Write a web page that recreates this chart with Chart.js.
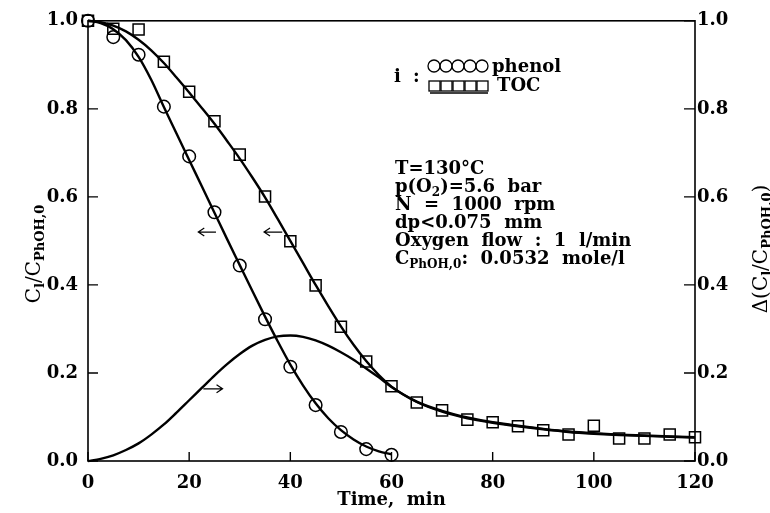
<!DOCTYPE html>
<html>
<head>
<meta charset="utf-8">
<script src="https://cdn.jsdelivr.net/npm/chart.js@4.4.0/dist/chart.umd.min.js"></script>
<style>
    html, body { margin: 0; padding: 0; background: #fff; }
</style>
</head>
<body>
<canvas id="myChart" width="770" height="513"></canvas>
<script>
// measured points, relative concentration
const phenol_t = [0, 5, 10, 15, 20, 25, 30, 35, 40, 45, 50, 55, 60]
const phenol_meas = [1.0, 0.963, 0.923, 0.805, 0.692, 0.565, 0.444, 0.322, 0.214, 0.127, 0.066, 0.027, 0.014]
const toc_t = [0, 5, 10, 15, 20, 25, 30, 35, 40, 45, 50, 55, 60, 65, 70, 75, 80, 85, 90, 95, 100, 105, 110, 115, 120]
const toc_meas = [1.0, 0.982, 0.98, 0.907, 0.839, 0.772, 0.696, 0.601, 0.499, 0.399, 0.305, 0.226, 0.17, 0.133, 0.115, 0.094, 0.088, 0.079, 0.07, 0.06, 0.08, 0.051, 0.051, 0.06, 0.054]

// model curves
const fit_t = [0, 2.5, 5, 7.5, 10, 12.5, 15, 17.5, 20, 22.5, 25, 27.5, 30, 32.5, 35, 37.5, 40, 42.5, 45, 47.5, 50, 52.5, 55, 57.5, 60,
    65, 70, 75, 80, 85, 90, 95, 100, 105, 110, 115, 120]
const phenol_fit = [1.0, 0.995, 0.981, 0.956, 0.918, 0.866, 0.804, 0.744, 0.684, 0.624, 0.564, 0.504, 0.445, 0.386, 0.328, 0.272, 0.219, 0.172, 0.131, 0.097, 0.07, 0.049, 0.033, 0.022, 0.015]
const toc_fit = [1.0, 0.997, 0.989, 0.976, 0.957, 0.933, 0.904, 0.871, 0.837, 0.802, 0.766, 0.727, 0.687, 0.644, 0.599, 0.55, 0.5, 0.45, 0.4, 0.352, 0.306, 0.264, 0.227, 0.195, 0.169,
    0.135, 0.114, 0.099, 0.088, 0.08, 0.073, 0.067, 0.063, 0.06, 0.058, 0.056, 0.054]
const delta_fit = [0, 0.005, 0.013, 0.025, 0.04, 0.06, 0.083, 0.11, 0.138, 0.166, 0.194, 0.22, 0.243, 0.262, 0.275, 0.283, 0.285, 0.282, 0.274, 0.262, 0.247, 0.23, 0.21, 0.19, 0.168,
    0.134, 0.112, 0.097, 0.087, 0.079, 0.072, 0.066, 0.062, 0.059, 0.057, 0.055, 0.053]

const x_ticks = [0, 20, 40, 60, 80, 100, 120]
const y_ticks = [0.0, 0.2, 0.4, 0.6, 0.8, 1.0]

const conditions = [
    [['T=130°C']],
    [['p(O'], ['2', 'sub'], [')=5.6  bar']],
    [['N  =  1000  rpm']],
    [['dp<0.075  mm']],
    [['Oxygen  flow  :  1  l/min']],
    [['C'], ['PhOH,0', 'sub'], [':  0.0532  mole/l']],
]

const FONT = '"DejaVu Serif", "Liberation Serif", serif'

const pairs = (xs, ys) => ys.map((y, i) => ({ x: xs[i], y: y }))

// text with subscripts, parts = [[text, kind], ...]
const drawRich = (ctx, parts, x, y, size, weight) => {
    ctx.textBaseline = 'alphabetic'
    ctx.textAlign = 'left'
    parts.forEach((p) => {
        if (p[1] == 'sub') {
            ctx.font = `bold ${Math.round(size * 0.64)}px ${FONT}`
            ctx.fillText(p[0], x, y + size * 0.22)
        } else {
            ctx.font = `${weight} ${size}px ${FONT}`
            ctx.fillText(p[0], x, y)
        }
        x += ctx.measureText(p[0]).width
    })
    return x
}

const richWidth = (ctx, parts, size, weight) => {
    let w = 0
    parts.forEach((p) => {
        ctx.font = p[1] == 'sub' ? `bold ${Math.round(size * 0.64)}px ${FONT}` : `${weight} ${size}px ${FONT}`
        w += ctx.measureText(p[0]).width
    })
    return w
}

const drawArrow = (ctx, x1, x2, y) => {
    const dir = x2 > x1 ? 1 : -1
    ctx.beginPath()
    ctx.moveTo(x1, y)
    ctx.lineTo(x2, y)
    ctx.moveTo(x2 - dir * 6, y - 4)
    ctx.lineTo(x2, y)
    ctx.lineTo(x2 - dir * 6, y + 4)
    ctx.stroke()
}

const framePlugin = {
    id: 'frame',
    afterDraw(chart) {
        const ctx = chart.ctx
        const a = chart.chartArea
        const sx = chart.scales.x
        const yl = chart.scales.y
        const yr = chart.scales.y2
        ctx.save()
        ctx.strokeStyle = '#000'
        ctx.fillStyle = '#000'
        ctx.lineWidth = 1.6
        ctx.strokeRect(a.left, a.top, a.right - a.left, a.bottom - a.top)

        // inward ticks
        ctx.lineWidth = 1.4
        ctx.beginPath()
        x_ticks.forEach((v) => {
            const px = sx.getPixelForValue(v)
            ctx.moveTo(px, a.bottom)
            ctx.lineTo(px, a.bottom - 9)
        })
        y_ticks.forEach((v) => {
            const py = yl.getPixelForValue(v)
            ctx.moveTo(a.left, py)
            ctx.lineTo(a.left + 10, py)
            const pr = yr.getPixelForValue(v)
            ctx.moveTo(a.right, pr)
            ctx.lineTo(a.right - 11, pr)
        })
        ctx.stroke()

        // arrows pointing to the axis each curve belongs to
        ctx.lineWidth = 1.2
        drawArrow(ctx, sx.getPixelForValue(25.3), sx.getPixelForValue(21.8), yl.getPixelForValue(0.52))
        drawArrow(ctx, sx.getPixelForValue(38.4), sx.getPixelForValue(34.8), yl.getPixelForValue(0.52))
        drawArrow(ctx, sx.getPixelForValue(22.8), sx.getPixelForValue(26.6), yl.getPixelForValue(0.164))

        // axis titles
        const tl = [['C'], ['l', 'sub'], ['/C'], ['PhOH,0', 'sub']]
        ctx.save()
        ctx.translate(40, 254)
        ctx.rotate(-Math.PI / 2)
        drawRich(ctx, tl, -richWidth(ctx, tl, 20, 'normal') / 2, 0, 20, 'normal')
        ctx.restore()

        const tr = [['Δ(C'], ['l', 'sub'], ['/C'], ['PhOH,0', 'sub'], [')']]
        ctx.save()
        ctx.translate(767, 249)
        ctx.rotate(-Math.PI / 2)
        drawRich(ctx, tr, -richWidth(ctx, tr, 20, 'normal') / 2, 0, 20, 'normal')
        ctx.restore()

        // legend
        ctx.font = `bold 18px ${FONT}`
        ctx.textBaseline = 'alphabetic'
        ctx.fillText('i', 394, 82)
        ctx.fillText(':', 413, 82)
        ctx.lineWidth = 1.3
        for (let i = 0; i < 5; i++) {
            ctx.beginPath()
            ctx.arc(434 + i * 12, 66, 6, 0, Math.PI * 2)
            ctx.stroke()
            ctx.strokeRect(429 + i * 12, 81, 11, 10)
        }
        ctx.beginPath()
        ctx.moveTo(430, 93)
        ctx.lineTo(488, 93)
        ctx.stroke()
        ctx.fillText('phenol', 492, 72)
        ctx.fillText('TOC', 497, 91)

        // run conditions
        conditions.forEach((line, i) => {
            drawRich(ctx, line, 395, 174 + i * 18, 18, 'bold')
        })
        ctx.restore()
    }
}

const lineSet = (xs, ys) => ({
    data: pairs(xs, ys),
    showLine: true,
    borderColor: '#000',
    borderWidth: 2.4,
    pointRadius: 0,
    cubicInterpolationMode: 'monotone',
    clip: false,
})

const pointSet = (xs, ys, style, r) => ({
    data: pairs(xs, ys),
    showLine: false,
    pointStyle: style,
    pointRadius: r,
    pointBorderWidth: 1.5,
    pointBorderColor: '#000',
    pointBackgroundColor: 'rgba(0,0,0,0)',
    clip: false,
})

const tickFont = { family: FONT, size: 18, weight: 'bold' }
const noGrid = { display: false, drawTicks: false }

const config = {
    type: 'scatter',
    data: {
        datasets: [
            lineSet(fit_t, phenol_fit),
            lineSet(fit_t, toc_fit),
            lineSet(fit_t, delta_fit),
            pointSet(phenol_t, phenol_meas, 'circle', 6.3),
            pointSet(toc_t, toc_meas, 'rect', 7.8),
        ]
    },
    options: {
        responsive: false,
        animation: false,
        layout: { padding: { top: 20, left: 0, right: 0, bottom: 0 } },
        plugins: { legend: { display: false }, tooltip: { enabled: false } },
        scales: {
            x: {
                type: 'linear', min: 0, max: 120,
                afterFit: (s) => { s.height = 52 },
                afterBuildTicks: (s) => { s.ticks = x_ticks.map(v => ({ value: v })) },
                grid: noGrid,
                border: { display: false },
                ticks: { color: '#000', font: tickFont, padding: 12, maxRotation: 0 },
                title: { display: true, text: 'Time,  min', color: '#000', font: tickFont, padding: { top: 0, bottom: 2 } },
            },
            y: {
                type: 'linear', min: 0, max: 1, position: 'left',
                afterFit: (s) => { s.width = 88 },
                afterBuildTicks: (s) => { s.ticks = y_ticks.map(v => ({ value: v })) },
                grid: noGrid,
                border: { display: false },
                ticks: { color: '#000', font: tickFont, padding: 10, callback: (v) => v.toFixed(1) },
            },
            y2: {
                type: 'linear', min: 0, max: 1, position: 'right',
                afterFit: (s) => { s.width = 75 },
                afterBuildTicks: (s) => { s.ticks = y_ticks.map(v => ({ value: v })) },
                grid: noGrid,
                border: { display: false },
                ticks: { color: '#000', font: tickFont, padding: 2, callback: (v) => v.toFixed(1) },
            }
        }
    },
    plugins: [framePlugin]
}

let ctx = document.getElementById('myChart').getContext('2d')
let myChart = new Chart(ctx, config)
</script>
</body>
</html>
